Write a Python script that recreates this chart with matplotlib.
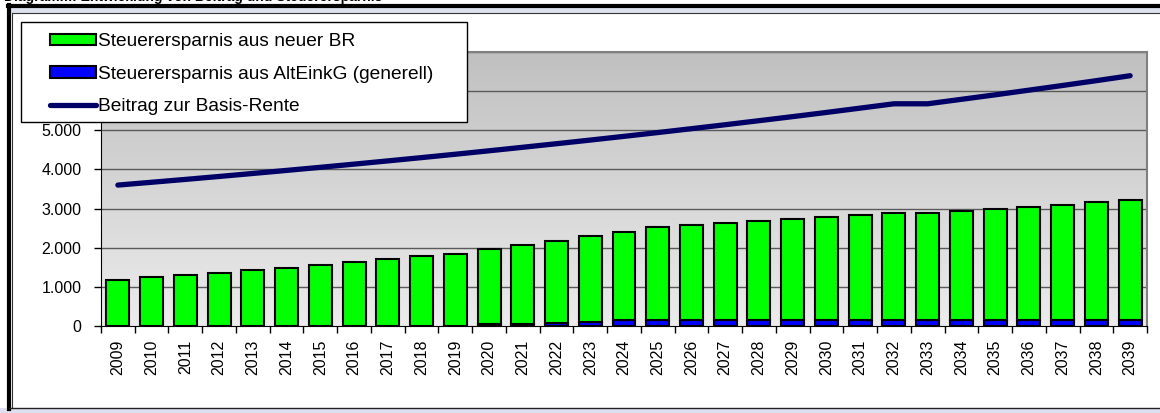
import numpy as np
import matplotlib.pyplot as plt
from matplotlib.colors import LinearSegmentedColormap
from matplotlib.lines import Line2D
from matplotlib.patches import Rectangle, Patch
from matplotlib.ticker import FuncFormatter, MultipleLocator

plt.rcParams['font.family'] = ['Liberation Sans', 'DejaVu Sans']

# data
years = [str(y) for y in range(2009, 2040)]
total_savings = [1180, 1240, 1300, 1350, 1420, 1480, 1560, 1630, 1700, 1780, 1850,
                 1970, 2070, 2180, 2290, 2400, 2520, 2570, 2620, 2680, 2730, 2780,
                 2830, 2890, 2890, 2940, 2990, 3050, 3100, 3160, 3220]
alteinkg = [0, 0, 0, 0, 0, 0, 0, 0, 0, 0, 0,
            40, 60, 85, 110, 145, 165, 165, 165, 165, 165, 165,
            165, 165, 165, 165, 165, 165, 165, 165, 165]
beitrag = [3600, 3672, 3745, 3820, 3897, 3975, 4054, 4135, 4218, 4302, 4388,
           4476, 4566, 4657, 4750, 4845, 4942, 5041, 5142, 5245, 5349, 5456,
           5566, 5677, 5677, 5791, 5906, 6025, 6145, 6268, 6394]
neue_br = [t - a for t, a in zip(total_savings, alteinkg)]

labels = ['Steuerersparnis aus neuer BR',
          'Steuerersparnis aus AltEinkG (generell)',
          'Beitrag zur Basis-Rente']
title = 'Diagramm: Entwicklung von Beitrag und Steuerersparnis'

W, H = 1160, 413
fig = plt.figure(figsize=(W / 100, H / 100), dpi=100)

def fx(px):
    return px / W

def fy(py):
    return 1 - py / H

# outer frame like the Excel chart object
fig.patches.append(Rectangle((fx(8), fy(13)), 1 - fx(8), fy(8) - fy(13),
                             transform=fig.transFigure, facecolor='#dde0ee', edgecolor='none', zorder=-1))
fig.patches.append(Rectangle((0, 0), 1, fy(408), transform=fig.transFigure,
                             facecolor='#dde0ee', edgecolor='none', zorder=-1))
fig.lines.append(Line2D([fx(8), 1], [fy(6), fy(6)], transform=fig.transFigure, color='black', lw=3))
fig.lines.append(Line2D([fx(9), fx(9)], [fy(5), fy(409)], transform=fig.transFigure, color='black', lw=3))
fig.lines.append(Line2D([fx(12), fx(12)], [fy(13), fy(408)], transform=fig.transFigure, color='#333333', lw=0.8))
fig.lines.append(Line2D([fx(12), 1], [fy(13), fy(13)], transform=fig.transFigure, color='#333333', lw=0.8))
fig.lines.append(Line2D([fx(9), 1], [fy(408), fy(408)], transform=fig.transFigure, color='#222222', lw=1))

# title, cut off at the top edge as in the reference
fig.text(fx(4), fy(1), title, fontsize=10, fontweight='bold', va='baseline', ha='left')

ax = fig.add_axes([fx(101), fy(326), fx(1147 - 101), fy(52) - fy(326)])
x = np.arange(len(years))

# gradient background
grad = np.linspace(0, 1, 256).reshape(-1, 1)
ax.imshow(grad, extent=(-0.5, len(years) - 0.5, 0, 7000), aspect='auto',
          cmap=LinearSegmentedColormap.from_list('bg', ['#ececec', '#c0c0c0']),
          origin='lower', zorder=0)

for yv in range(1000, 8000, 1000):
    ax.axhline(yv, color='#5a5a5a', lw=1, zorder=1)

ax.bar(x, alteinkg, width=0.68, color='#0000ff', edgecolor='black', lw=1.5, zorder=2)
ax.bar(x, neue_br, width=0.68, bottom=alteinkg, color='#00ff00', edgecolor='black', lw=1.5, zorder=2)
ax.plot(x, beitrag, color='#000066', lw=3.8, solid_capstyle='round', solid_joinstyle='round', zorder=3)

ax.set_xlim(-0.5, len(years) - 0.5)
ax.set_ylim(0, 7000)
ax.yaxis.set_major_locator(MultipleLocator(1000))
# labels above 5.000 sit under the legend box in the reference
ax.yaxis.set_major_formatter(FuncFormatter(
    lambda v, p: f'{int(v):,}'.replace(',', '.') if v <= 5000 else ''))
ax.set_xticks(x)
ax.set_xticklabels(years, rotation=90)
ax.set_xticks(np.arange(-0.5, len(years)), minor=True)
ax.tick_params(axis='x', which='major', length=0, pad=10, labelsize=11.5)
ax.tick_params(axis='x', which='minor', length=5, width=1, color='black', direction='out')
ax.tick_params(axis='y', length=5, width=1, color='black', direction='out', labelsize=11.5, pad=9)

for s in ['top', 'right']:
    ax.spines[s].set_color('#808080')
    ax.spines[s].set_linewidth(1.5)
ax.spines['left'].set_color('black')
ax.spines['bottom'].set_color('black')

# legend box drawn separately so the entries can sit with a wider left margin
fig.patches.append(Rectangle((fx(21), fy(122)), fx(467 - 21), fy(22) - fy(122),
                             transform=fig.transFigure, facecolor='white',
                             edgecolor='black', lw=1, zorder=5))
handles = [Patch(facecolor='#00ff00', edgecolor='black', lw=1.5),
           Patch(facecolor='#0000ff', edgecolor='black', lw=1.5),
           Line2D([], [], color='#000066', lw=3.8, solid_capstyle='round')]
leg = fig.legend(handles, labels, loc='upper left',
                 bbox_to_anchor=(fx(50), fy(33)),
                 fontsize=13.8, handlelength=2.4, handleheight=0.52,
                 handletextpad=0.1, labelspacing=0.82, borderpad=0, borderaxespad=0,
                 frameon=False)
leg.set_zorder(10)

fig.savefig('out.png', dpi=100)
